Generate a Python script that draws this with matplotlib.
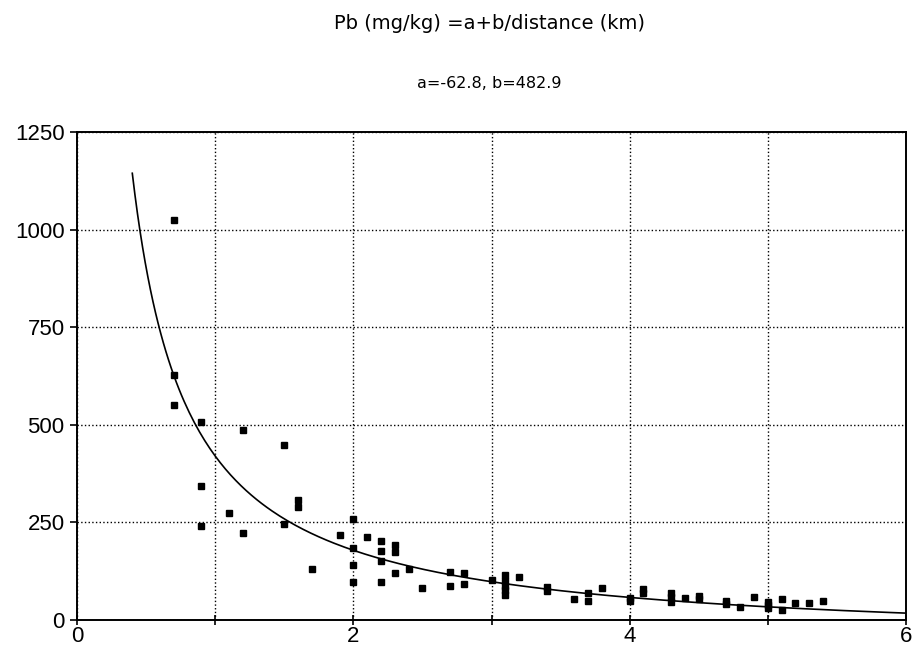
import numpy as np
from matplotlib import pyplot as plt

#Measured lead concentration against distance from source
distance = [0.7, 0.7, 0.7, 0.9, 0.9, 0.9, 1.1, 1.2, 1.2, 1.5, 1.5, 1.6, 1.6, 1.7, 1.9,
            2.0, 2.0, 2.0, 2.0, 2.1, 2.2, 2.2, 2.2, 2.2, 2.3, 2.3, 2.3, 2.4, 2.5,
            2.7, 2.7, 2.8, 2.8, 3.0, 3.1, 3.1, 3.1, 3.1, 3.1, 3.2, 3.4, 3.4,
            3.6, 3.7, 3.7, 3.8, 4.0, 4.0, 4.1, 4.1, 4.3, 4.3, 4.3, 4.4, 4.5, 4.5,
            4.7, 4.7, 4.8, 4.9, 5.0, 5.0, 5.0, 5.1, 5.1, 5.2, 5.3, 5.4]
lead = [1025, 627, 550, 507, 343, 242, 274, 487, 222, 448, 246, 308, 289, 130, 217,
        260, 184, 140, 97, 213, 202, 178, 152, 97, 193, 173, 120, 131, 81,
        124, 87, 120, 93, 103, 116, 100, 88, 77, 65, 111, 85, 75,
        53, 69, 49, 81, 56, 50, 80, 70, 70, 58, 47, 56, 62, 55,
        50, 40, 34, 58, 45, 38, 32, 53, 26, 43, 43, 50]

#Fitted model coefficients
a = -62.8
b = 482.9

xTicks = [0, 1, 2, 3, 4, 5, 6]
xTickLabels = ['0', '', '2', '', '4', '', '6']
yTicks = [0, 250, 500, 750, 1000, 1250]

xFit = np.linspace(0.4, 6, 300)
yFit = a + b / xFit

fonts = ['Liberation Sans', 'DejaVu Sans']
plt.rcParams['font.family'] = fonts

fig = plt.figure(figsize=(9.17, 6.55), dpi=100)
ax = fig.add_axes([0.084, 0.0534, 0.904, 0.745])

ax.plot(xFit, yFit, color='#000000', linewidth=1.2)
ax.plot(distance, lead, linestyle='none', marker='s', markersize=3.8, color='#000000')

ax.set_xlim(0, 6)
ax.set_ylim(0, 1250)
ax.set_xticks(xTicks)
ax.set_xticklabels(xTickLabels)
ax.set_yticks(yTicks)
ax.grid(True, linestyle=':', color='#000000', linewidth=1.0)
ax.tick_params(axis='x', direction='inout', length=7, width=1.2, labelsize=16, pad=1)
ax.tick_params(axis='y', direction='out', length=5, width=1.2, labelsize=16, pad=4)
for s in ax.spines.values():
    s.set_linewidth(1.4)

fig.text(0.534, 1 - 29 / 655, 'Pb (mg/kg) =a+b/distance (km)', ha='center', va='baseline',
         fontsize=14, family=['DejaVu Sans'])
fig.text(0.534, 1 - 88 / 655, 'a=%.1f, b=%.1f' % (a, b), ha='center', va='baseline',
         fontsize=11.5, family=['DejaVu Sans'])

fig.savefig('out.png', dpi=100)
plt.close('all')
